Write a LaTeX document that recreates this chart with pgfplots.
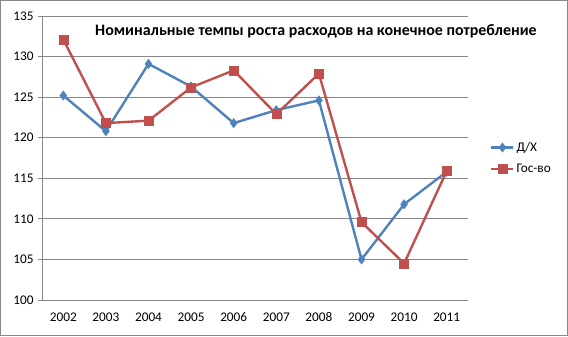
\documentclass[border=0pt]{standalone}
\usepackage{fontspec}
\setmainfont{Carlito}
\usepackage{pgfplots}
\pgfplotsset{compat=1.18}
\definecolor{exblue}{HTML}{4F81BD}
\definecolor{exred}{HTML}{C0504D}
\definecolor{gridgray}{HTML}{868686}
\begin{document}
\begin{tikzpicture}[x=1bp,y=1bp]
\useasboundingbox (0,0) rectangle (568,336);
\draw[gridgray, line width=0.8bp] (0.5,0.5) rectangle (567.5,335.5);
\begin{axis}[
  at={(42bp,36bp)}, anchor=south west,
  scale only axis, width=426bp, height=284bp,
  xmin=-0.5, xmax=9.5, ymin=100, ymax=135,
  xtick={0,...,9},
  xticklabels={2002,2003,2004,2005,2006,2007,2008,2009,2010,2011},
  minor xtick={-0.5,0.5,...,9.5},
  ytick={100,105,...,135},
  axis x line*=bottom, axis y line*=left,
  axis line style={gridgray, line width=0.8bp, -},
  x axis line style={-}, y axis line style={-},
  tick align=outside,
  x tick style={draw=none},
  minor x tick style={gridgray, line width=0.8bp},
  minor tick length=4bp,
  y tick style={gridgray, line width=0.8bp},
  major tick length=4bp,
  ymajorgrids, grid style={gridgray, line width=0.8bp},
  tick label style={font=\fontsize{13.3}{15}\selectfont, /pgf/number format/assume math mode=true},
  yticklabel style={xshift=-1bp},
  xticklabel style={yshift=-5bp},
  legend style={at={(rel axis cs:1.045,0.5)}, anchor=west, draw=none, fill=none,
    font=\fontsize{13.3}{15}\selectfont, row sep=7bp},
  legend cell align=left,
  legend image code/.code={
    \draw[#1, line width=2.2bp] (0bp,0bp) -- (22bp,0bp);
    \draw[#1, only marks] plot coordinates {(11bp,0bp)};
  },
  clip=false,
]
\addplot[exblue, line width=2.4bp, mark=diamond*, mark size=4.6bp, mark options={fill=exblue, line width=0.5bp}]
 coordinates {(0,125.2) (1,120.8) (2,129.1) (3,126.3) (4,121.8) (5,123.4) (6,124.6) (7,105.0) (8,111.8) (9,115.8)};
\addlegendentry{Д/Х}
\addplot[exred, line width=2.4bp, mark=square*, mark size=4.5bp, mark options={fill=exred, line width=0.5bp}]
 coordinates {(0,132.1) (1,121.8) (2,122.1) (3,126.2) (4,128.3) (5,122.9) (6,127.9) (7,109.6) (8,104.5) (9,115.9)};
\addlegendentry{Гос-во}
\node[font=\fontsize{16}{18}\selectfont\bfseries] at (rel axis cs:0.643,0.947) {Номинальные темпы роста расходов на конечное потребление};
\end{axis}
\end{tikzpicture}
\end{document}
